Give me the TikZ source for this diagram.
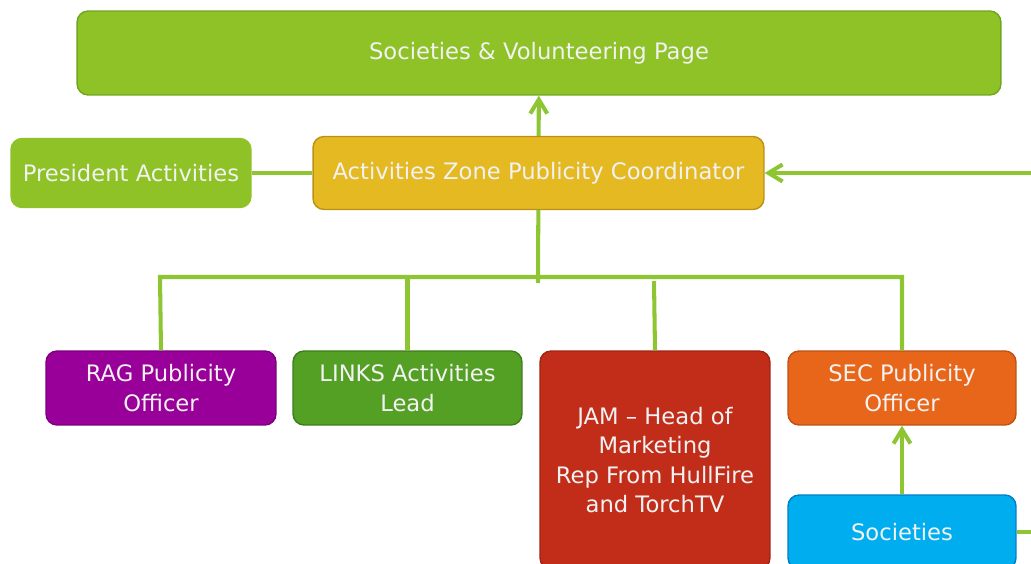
\documentclass[tikz,border=0pt]{standalone}
\usepackage{fontspec}
\setmainfont{DejaVu Sans}
\usepackage{tikz}
\usetikzlibrary{arrows.meta, positioning, calc}
\definecolor{pagegreen}{RGB}{142,194,38}
\definecolor{pagegreenD}{RGB}{112,165,30}
\definecolor{coordgold}{RGB}{229,185,34}
\definecolor{coordgoldD}{RGB}{185,145,20}
\definecolor{ragpurple}{RGB}{153,0,153}
\definecolor{ragpurpleD}{RGB}{125,0,125}
\definecolor{linksgreen}{RGB}{84,160,36}
\definecolor{linksgreenD}{RGB}{60,125,25}
\definecolor{jamred}{RGB}{194,45,26}
\definecolor{jamredD}{RGB}{160,35,20}
\definecolor{secorange}{RGB}{232,102,26}
\definecolor{secorangeD}{RGB}{190,80,20}
\definecolor{socblue}{RGB}{0,174,239}
\definecolor{socblueD}{RGB}{0,125,200}
\definecolor{linegreen}{RGB}{141,198,50}

\begin{document}
\begin{tikzpicture}[x=0.02cm, y=-0.02cm,
        box/.style={draw, rounded corners=0.22cm, line width=0.8pt, text=white!95!black, align=center,
                    inner sep=0pt, font=\fontsize{12.9}{16.7}\selectfont},
        link/.style={draw=linegreen, line width=2.3pt},
        tip/.style={-{Straight Barb[length=2.8mm,width=3.4mm]}}]

        \useasboundingbox (0,0) rectangle (1031,564); % page size
        \clip (0,0) rectangle (1031,564);

        % Top row
        \node[box, fill=pagegreen, draw=pagegreenD, minimum width=18.48cm, minimum height=1.68cm] (page) at (539,53) {Societies \& Volunteering Page};

        % Middle row
        \node[box, fill=pagegreen, draw=pagegreen, minimum width=4.8cm, minimum height=1.38cm] (pres) at (131,173) {President Activities};
        \node[box, fill=coordgold, draw=coordgoldD, minimum width=9.02cm, minimum height=1.46cm] (coord) at (538.5,173) {Activities Zone Publicity Coordinator};

        % Bottom row
        \node[box, fill=ragpurple, draw=ragpurpleD, minimum width=4.6cm, minimum height=1.48cm] (rag) at (161,388) {RAG Publicity\\Officer};
        \node[box, fill=linksgreen, draw=linksgreenD, minimum width=4.58cm, minimum height=1.48cm] (links) at (407.5,388) {LINKS Activities\\Lead};
        \node[box, fill=jamred, draw=jamredD, minimum width=4.6cm, minimum height=4.36cm] (jam) at (655,460) {JAM -- Head of\\Marketing\\Rep From HullFire\\and TorchTV};
        \node[box, fill=secorange, draw=secorangeD, minimum width=4.56cm, minimum height=1.48cm] (sec) at (902,388) {SEC Publicity\\Officer};
        \node[box, fill=socblue, draw=socblueD, minimum width=4.56cm, minimum height=1.48cm] (soc) at (902,532) {Societies};

        % Free ends
        \coordinate (rightin) at (1031,173); % from the right
        \coordinate (rightout) at (1031,532); % to the right
        \coordinate (fork) at (538,283); % end of the drop
        \coordinate (busL) at (160,277); % left end of the bus
        \coordinate (busR) at (902,277); % right end of the bus
        \coordinate (jamtop) at (654,281); % top of the JAM line

        % Connectors
        \draw[link, tip] (coord) -- (page);
        \draw[link] (pres) -- (coord);
        \draw[link, tip] (rightin) -- (coord);
        \draw[link] (coord) -- (fork);
        \draw[link] (rag.north) -- (busL) -- (busR) -- (sec.north);
        \draw[link] (links.north) -- (links.north |- busL);
        \draw[link] (jamtop) -- (jam.north);
        \draw[link, tip] (soc) -- (sec);
        \draw[link] (soc) -- (rightout);

\end{tikzpicture}
\end{document}
